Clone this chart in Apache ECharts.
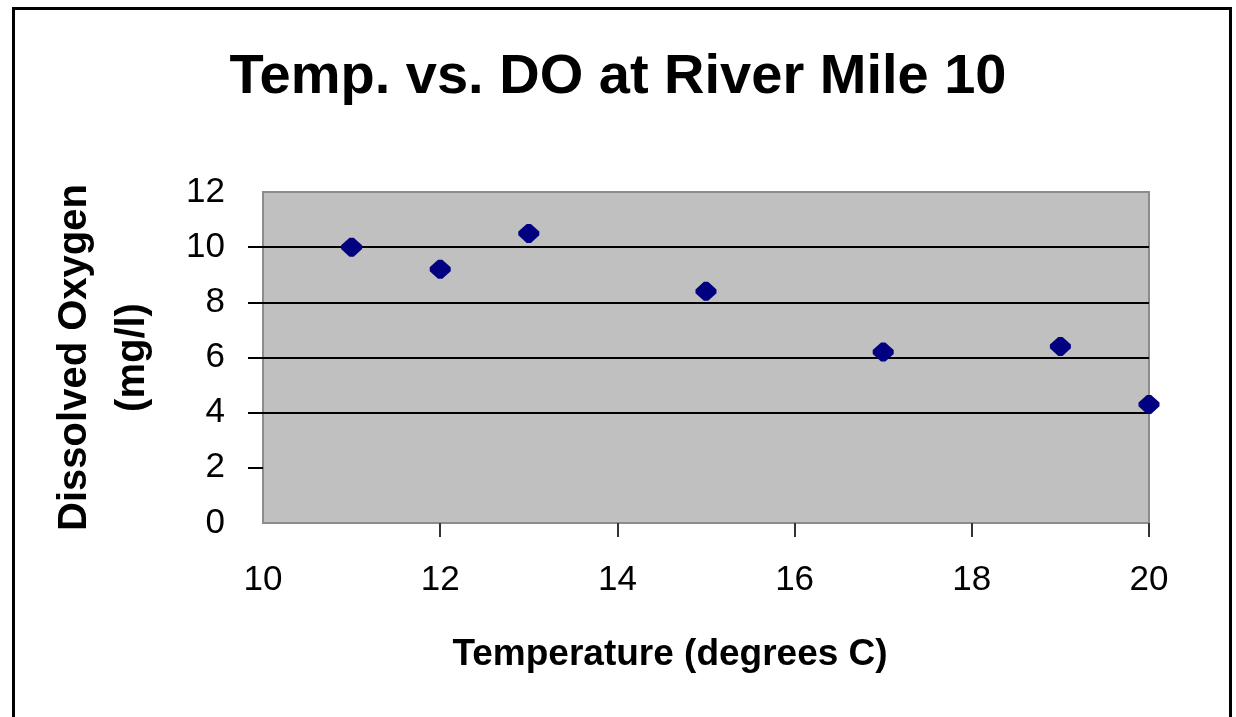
<!DOCTYPE html>
<html>
<head>
<meta charset="utf-8">
<script src="https://cdn.jsdelivr.net/npm/echarts@6/dist/echarts.min.js"></script>
<style>
  html, body { margin: 0; padding: 0; background: #fff; }
  #main { width: 1236px; height: 717px; }
</style>
</head>
<body>
<div id="main"></div>
<script>
// river mile 10 readings
var temps = [11, 12, 13, 15, 17, 19, 20];
var oxygen = [10.0, 9.2, 10.5, 8.4, 6.2, 6.4, 4.3];
var xTicks = [12, 14, 16, 18, 20];
var yTicks = [2, 4, 6, 8, 10];

var pts = [];
for (var i = 0; i < temps.length; i++) {
    pts.push([temps[i], oxygen[i]]);
}

var chart = echarts.init(document.getElementById('main'));
var font = 'Liberation Sans, Arial, sans-serif';

var option = {
    animation: false,
    backgroundColor: '#fff',
    title: {
        text: 'Temp. vs. DO at River Mile 10',
        left: 'center',
        top: 45,
        textStyle: { fontFamily: font, fontSize: 56, fontWeight: 'bold', color: '#000' }
    },
    grid: {
        left: 263, top: 192, width: 886, height: 331,
        show: true,
        backgroundColor: '#c0c0c0',
        borderColor: '#8c8c8c',
        borderWidth: 2
    },
    xAxis: {
        type: 'value',
        min: 10, max: 20, interval: 2,
        name: 'Temperature (degrees C)',
        nameLocation: 'middle',
        nameGap: 113,
        nameTextStyle: { fontFamily: font, fontSize: 37, fontWeight: 'bold', color: '#000', padding: [0, 72, 0, 0] },
        axisLine: { show: false },
        axisTick: { show: true, length: 14, customValues: xTicks, lineStyle: { color: '#333', width: 2 } },
        axisLabel: { margin: 40, fontFamily: font, fontSize: 35, color: '#000' },
        splitLine: { show: false }
    },
    yAxis: {
        type: 'value',
        min: 0, max: 12, interval: 2,
        name: 'Dissolved Oxygen\n(mg/l)',
        nameLocation: 'middle',
        nameRotate: 90,
        nameGap: 101,
        nameTextStyle: { fontFamily: font, fontSize: 40, fontWeight: 'bold', color: '#000', lineHeight: 58 },
        axisLine: { show: false },
        axisTick: { show: true, length: 15, customValues: yTicks, lineStyle: { color: '#000', width: 2 } },
        axisLabel: { margin: 38, fontFamily: font, fontSize: 35, color: '#000' },
        splitLine: {
            show: true,
            lineStyle: {
                color: ['rgba(0,0,0,0)', '#000', '#000', '#000', '#000', '#000', 'rgba(0,0,0,0)'],
                width: 2
            }
        }
    },
    graphic: [{
        type: 'rect',
        shape: { x: 13.5, y: 8.5, width: 1217, height: 800 },
        style: { fill: null, stroke: '#000', lineWidth: 3 },
        silent: true
    }],
    series: [{
        name: 'DO',
        type: 'scatter',
        clip: false,
        symbol: 'path://M4,0 L6,0 L10,4 L10,6 L6,10 L4,10 L0,6 L0,4 Z',
        symbolSize: [21, 19],
        itemStyle: { color: '#000080', opacity: 1 },
        data: pts
    }]
};
chart.setOption(option);
</script>
</body>
</html>
